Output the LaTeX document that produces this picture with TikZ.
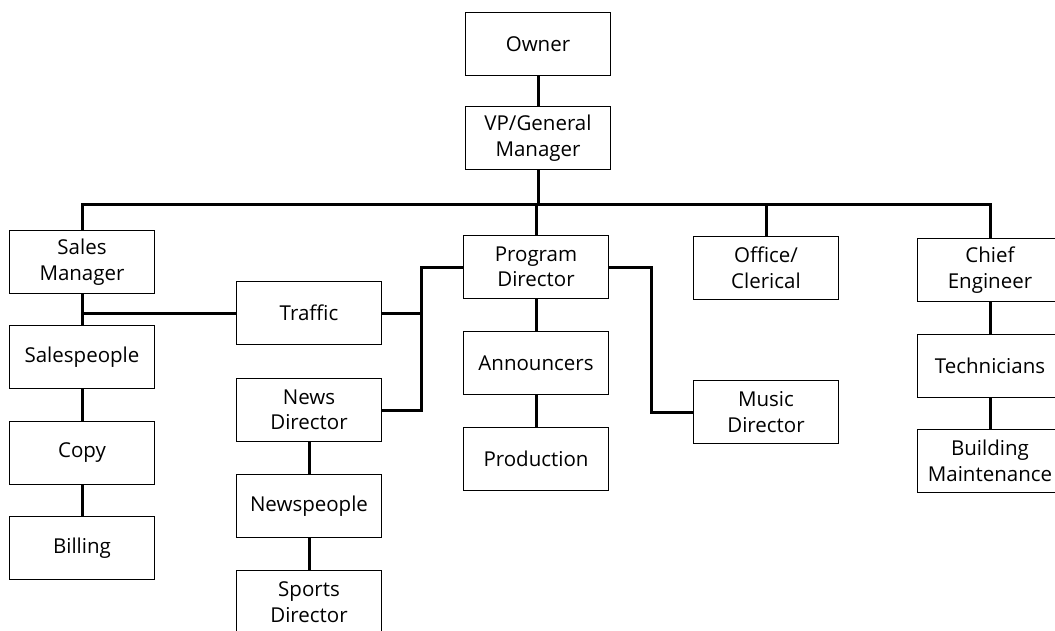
\documentclass[tikz,border=0pt]{standalone}
\usepackage{fontspec}
\setmainfont{Open Sans}
\usetikzlibrary{positioning}

\begin{document}
\begin{tikzpicture}[x=1pt, y=1pt,
    box/.style={draw, line width=1.8pt, minimum width=145pt, minimum height=63pt,
      inner sep=2pt, align=center, font={\fontsize{20.5}{25.5}\selectfont}},
    link/.style={line width=3pt}]
  \useasboundingbox (0,0) rectangle (1055,-630);
  \node[box] (Owner) at (538,-44) {Owner};
  \node[box, on grid, below=94pt of Owner] (VP) {VP/General\\Manager};
  \node[box] (SM) at (82,-262) {Sales\\Manager};
  \node[box, on grid, below=95pt of SM] (SP) {Salespeople};
  \node[box, on grid, below=96pt of SP] (Copy) {Copy};
  \node[box, on grid, below=95pt of Copy] (Billing) {Billing};
  \node[box] (Traffic) at (309,-313) {Traffic};
  \node[box, on grid, below=97pt of Traffic] (ND) {News\\Director};
  \node[box, on grid, below=96pt of ND] (NP) {Newspeople};
  \node[box, on grid, below=96pt of NP] (SD) {Sports\\Director};
  \node[box] (PD) at (536,-267) {Program\\Director};
  \node[box, on grid, below=96pt of PD] (Ann) {Announcers};
  \node[box, on grid, below=96pt of Ann] (Prod) {Production};
  \node[box] (Office) at (766,-268) {Office/\\Clerical};
  \node[box, on grid, below=144pt of Office] (Music) {Music\\Director};
  \node[box] (CE) at (990,-270) {Chief\\Engineer};
  \node[box, on grid, below=96pt of CE] (Tech) {Technicians};
  \node[box, on grid, below=95pt of Tech] (BM) {Building\\Maintenance};
  % joints
  \coordinate (Bus) at (0,-204);
  \coordinate (NewsX) at (421,0);
  \coordinate (MusicX) at (651,0);
  \draw[link] (Owner) -- (VP);
  \draw[link] (VP) -- (VP |- Bus);
  \draw[link] (SM) -- (SM |- Bus) -- (CE |- Bus) -- (CE);
  \draw[link] (PD) -- (PD |- Bus);
  \draw[link] (Office) -- (Office |- Bus);
  \draw[link] (SM) -- (SP) -- (Copy) -- (Billing);
  \draw[link] (ND) -- (NP) -- (SD);
  \draw[link] (PD) -- (Ann) -- (Prod);
  \draw[link] (CE) -- (Tech) -- (BM);
  \draw[link] (SM |- Traffic) -- (Traffic);
  \draw[link] (Traffic) -- (Traffic -| NewsX);
  \draw[link] (PD) -| (ND -| NewsX) -- (ND);
  \draw[link] (PD) -| (Music -| MusicX) -- (Music);
\end{tikzpicture}
\end{document}
